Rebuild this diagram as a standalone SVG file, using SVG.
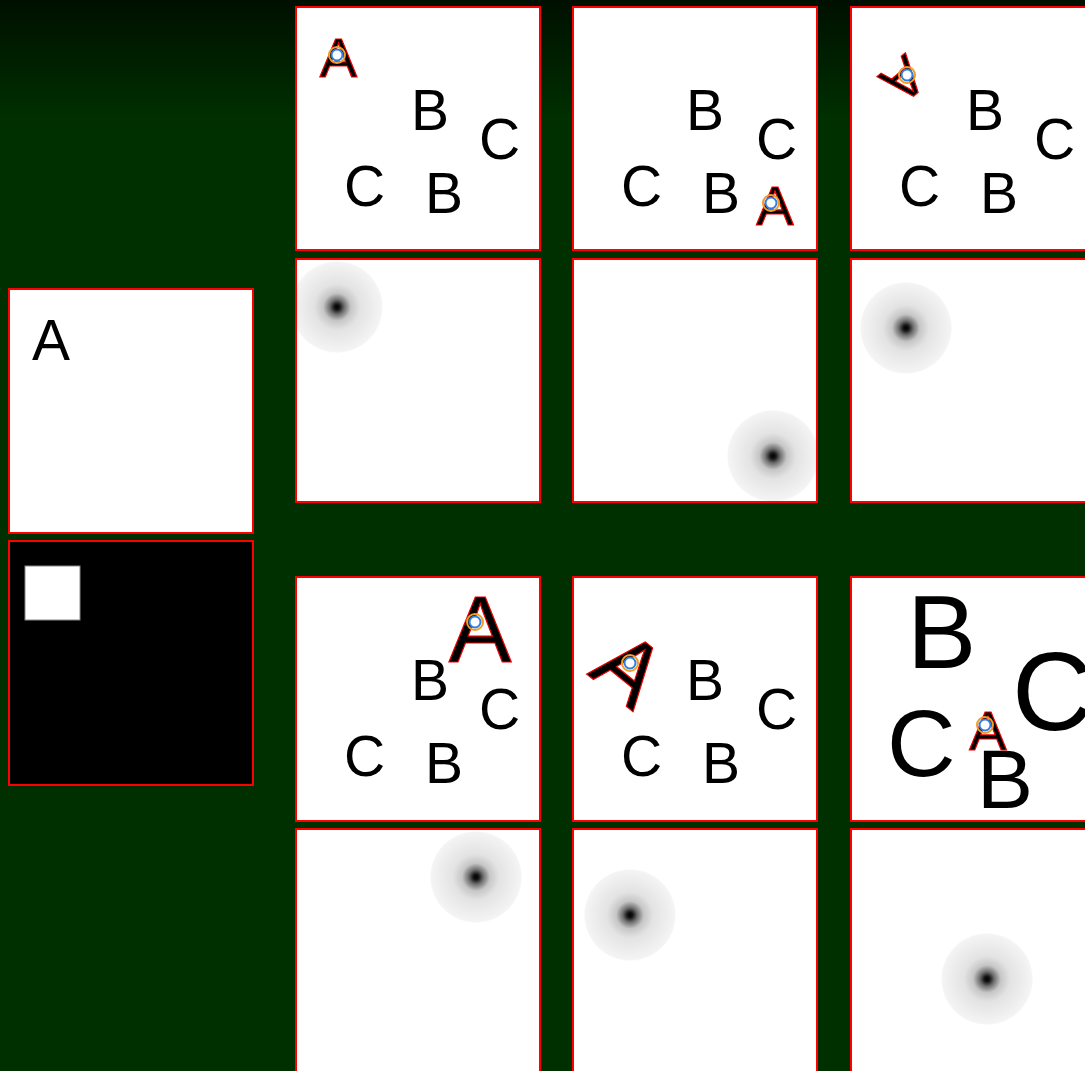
<svg xmlns="http://www.w3.org/2000/svg" width="1085" height="1071" viewBox="0 0 1085 1071">
<defs>
<linearGradient id="bg" x1="0" y1="0" x2="0" y2="120" gradientUnits="userSpaceOnUse">
<stop offset="0" stop-color="#001000"/>
<stop offset="1" stop-color="#003000"/>
</linearGradient>
<radialGradient id="blob">
<stop offset="0" stop-color="#000"/>
<stop offset="0.06" stop-color="#151515"/>
<stop offset="0.16" stop-color="#707070"/>
<stop offset="0.3" stop-color="#c6c6c6"/>
<stop offset="0.5" stop-color="#e3e3e3"/>
<stop offset="0.8" stop-color="#eeeeee"/>
<stop offset="0.97" stop-color="#f4f4f4"/>
<stop offset="1" stop-color="#fdfdfd"/>
</radialGradient>
<clipPath id="c21"><rect x="297" y="260" width="242" height="241"/></clipPath>
<clipPath id="c22"><rect x="574" y="260" width="242" height="241"/></clipPath>
<clipPath id="c23"><rect x="852" y="260" width="242" height="241"/></clipPath>
<clipPath id="c41"><rect x="297" y="830" width="242" height="242"/></clipPath>
<clipPath id="c42"><rect x="574" y="830" width="242" height="242"/></clipPath>
<clipPath id="c43"><rect x="852" y="830" width="242" height="242"/></clipPath>
<g id="mark">
<circle r="8" fill="none" stroke="#f39c26" stroke-width="2"/>
<circle r="5.5" fill="#fff" stroke="#2f7fe0" stroke-width="2"/>
</g>
</defs>
<style>
.panel{fill:#fff;stroke:#f00;stroke-width:2}
.t{font-family:"Liberation Sans",Arial,sans-serif;fill:#000}
.a{font-family:"Liberation Sans",Arial,sans-serif;fill:#000;stroke:#e00;stroke-width:1.2;text-anchor:middle}
</style>
<rect x="0" y="0" width="1085" height="1071" fill="url(#bg)"/>

<g id="ref-white">
<rect class="panel" x="9" y="289" width="244" height="244"/>
<text class="t" x="32" y="360" font-size="57">A</text>
</g>
<g id="ref-black">
<rect x="9" y="541" width="244" height="244" fill="#000" stroke="#f00" stroke-width="2"/>
<rect x="25" y="566" width="55" height="54" fill="#fff" stroke="#888" stroke-width="1"/>
</g>

<g id="p11">
<rect class="panel" x="296" y="7" width="244" height="243"/>
<g transform="translate(295,6)" font-size="57">
<text class="t" x="116" y="124">B</text>
<text class="t" x="184" y="153">C</text>
<text class="t" x="49" y="200">C</text>
<text class="t" x="130" y="207">B</text>
</g>
<text class="a" x="338.5" y="77" font-size="56">A</text>
<use href="#mark" x="337" y="55"/>
</g>

<g id="p12">
<rect class="panel" x="573" y="7" width="244" height="243"/>
<g transform="translate(572,6)" font-size="57">
<text class="t" x="114" y="124">B</text>
<text class="t" x="184" y="153">C</text>
<text class="t" x="49" y="200">C</text>
<text class="t" x="130" y="207">B</text>
</g>
<text class="a" x="775" y="225" font-size="56">A</text>
<use href="#mark" x="771" y="203"/>
</g>

<g id="p13">
<rect class="panel" x="851" y="7" width="244" height="243"/>
<g transform="translate(850,6)" font-size="57">
<text class="t" x="116" y="124">B</text>
<text class="t" x="184" y="153">C</text>
<text class="t" x="49" y="200">C</text>
<text class="t" x="130" y="207">B</text>
</g>
<text class="a" x="904" y="100" font-size="56" transform="rotate(140 904 80)">A</text>
<use href="#mark" x="907" y="75"/>
</g>

<g id="p21">
<rect class="panel" x="296" y="259" width="244" height="243"/>
<circle cx="337" cy="307" r="46" fill="url(#blob)" clip-path="url(#c21)"/>
</g>
<g id="p22">
<rect class="panel" x="573" y="259" width="244" height="243"/>
<circle cx="773" cy="456" r="46" fill="url(#blob)" clip-path="url(#c22)"/>
</g>
<g id="p23">
<rect class="panel" x="851" y="259" width="244" height="243"/>
<circle cx="906" cy="328" r="46" fill="url(#blob)" clip-path="url(#c23)"/>
</g>

<g id="p31">
<rect class="panel" x="296" y="577" width="244" height="244"/>
<g transform="translate(295,576)" font-size="57">
<text class="t" x="116" y="124">B</text>
<text class="t" x="184" y="153">C</text>
<text class="t" x="49" y="200">C</text>
<text class="t" x="130" y="207">B</text>
</g>
<text class="a" x="480" y="662" font-size="94">A</text>
<use href="#mark" x="475" y="622"/>
</g>

<g id="p32">
<rect class="panel" x="573" y="577" width="244" height="244"/>
<g transform="translate(572,576)" font-size="57">
<text class="t" x="114" y="124">B</text>
<text class="t" x="184" y="153">C</text>
<text class="t" x="49" y="200">C</text>
<text class="t" x="130" y="207">B</text>
</g>
<text class="a" x="630" y="700" font-size="90" transform="rotate(39 630 668)">A</text>
<use href="#mark" x="630" y="663"/>
</g>

<g id="p33">
<rect class="panel" x="851" y="577" width="244" height="244"/>
<text class="t" x="907" y="668" font-size="104">B</text>
<text class="t" x="1012" y="730" font-size="112">C</text>
<text class="t" x="887" y="776" font-size="95">C</text>
<text class="t" x="977" y="808" font-size="84">B</text>
<text class="a" x="988" y="750" font-size="56">A</text>
<use href="#mark" x="985" y="725"/>
</g>

<g id="p41">
<rect class="panel" x="296" y="829" width="244" height="244"/>
<circle cx="476" cy="877" r="46" fill="url(#blob)" clip-path="url(#c41)"/>
</g>
<g id="p42">
<rect class="panel" x="573" y="829" width="244" height="244"/>
<circle cx="630" cy="915" r="46" fill="url(#blob)" clip-path="url(#c42)"/>
</g>
<g id="p43">
<rect class="panel" x="851" y="829" width="244" height="244"/>
<circle cx="987" cy="979" r="46" fill="url(#blob)" clip-path="url(#c43)"/>
</g>
<g id="connectors"/>
</svg>
